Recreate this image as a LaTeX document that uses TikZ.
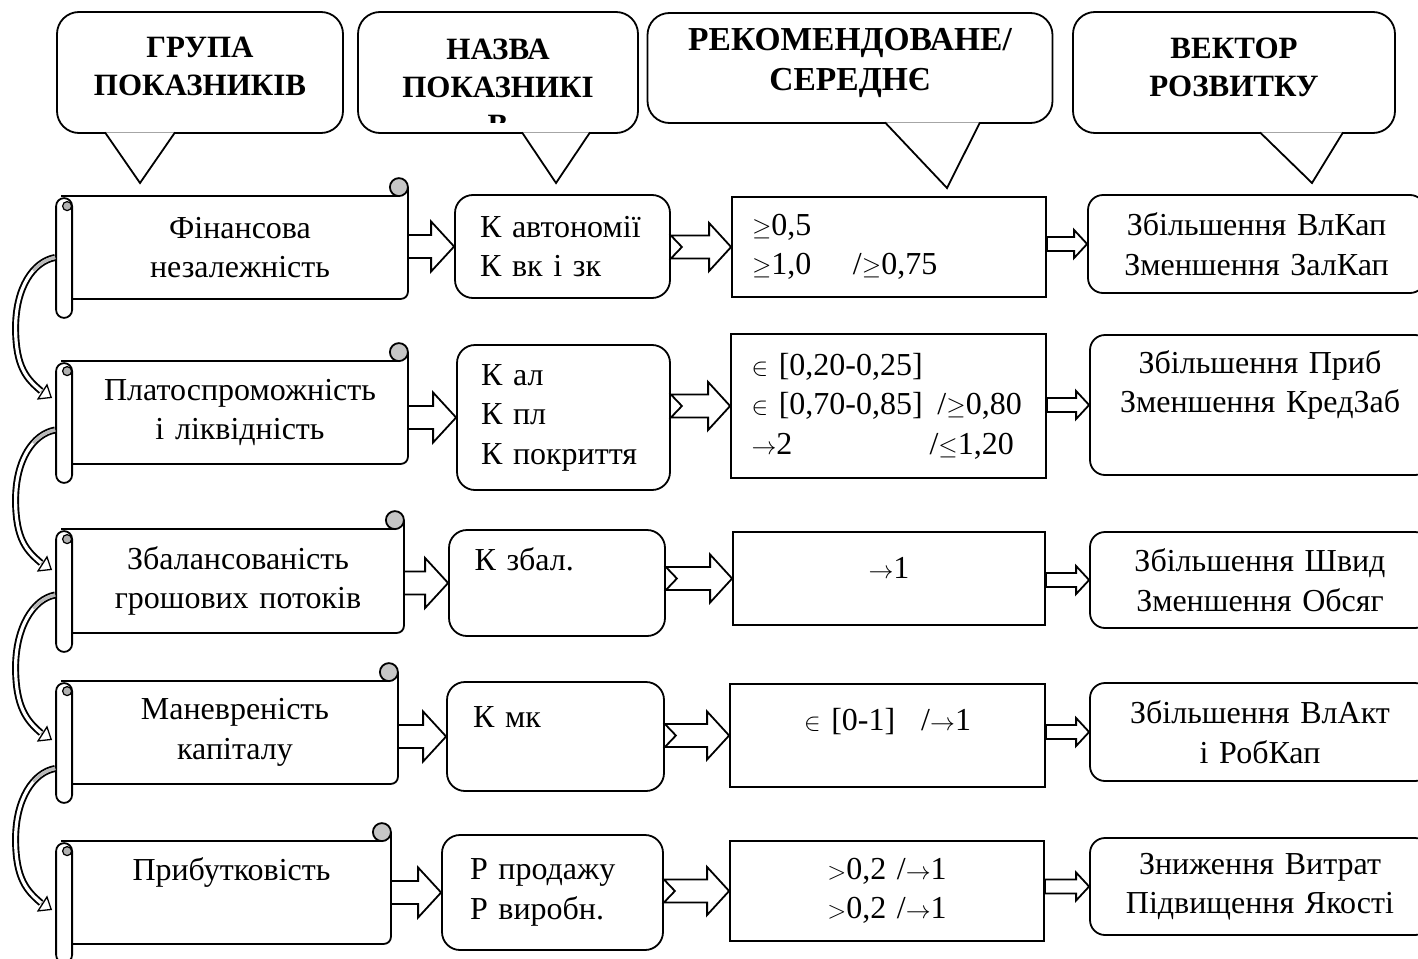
\documentclass[tikz,border=0pt]{standalone}
\usepackage{fontspec}
\setmainfont{Liberation Serif}
\usetikzlibrary{calc,arrows.meta}

\newcommand{\scrollframe}[1]{%
  \draw[rounded corners=7pt] ($(#1.north east)+(0,-9)$) -- (#1.south east) -- (#1.south west);
  \draw ($(#1.north west)+(-11,0)$) -- ($(#1.north east)+(-9,0)$);
  \draw[fill=gray!45] ($(#1.north east)+(-9,-9)$) circle (9pt);
  \draw[fill=white, rounded corners=8pt] ($(#1.north west)+(-16,2)$) rectangle ($(#1.south west)+(0,19)$);
  \draw[fill=gray!60, line width=1.2pt] ($(#1.north west)+(-5,10)$) circle (4.5pt);}
\newcommand{\barrow}[6]{%
  \draw[fill=white, line join=miter]
    ($(#1.east |- #2.west)+(0,-#3)$) -- ($(#2.west)+(-#5,-#3)$) -- ($(#2.west)+(-#5,-#4)$) -- (#2.west)
    -- ($(#2.west)+(-#5,#4)$) -- ($(#2.west)+(-#5,#3)$) -- ($(#1.east |- #2.west)+(0,#3)$)
    -- ($(#1.east |- #2.west)+(#6,0)$) -- cycle;}
\newcommand{\bendarrow}[4]{%
  \coordinate (bt) at ($(#1.west)+(-17,#3)$);
  \coordinate (bp) at ($(#2.west)+(-20,#4)$);
  \coordinate (bm) at ($(bt)!0.5!(bp)+(-38,0)$);
  \coordinate (bh) at ($(bp)+(-11,-7)$);
  \draw[line width=7pt] (bt) .. controls +(-22,4) and +(0,-40) .. (bm) .. controls +(0,40) and +(-14,-12) .. (bh);
  \draw[line width=3.2pt, white] (bt) .. controls +(-22,4) and +(0,-40) .. (bm) .. controls +(0,40) and +(-14,-12) .. (bh);
  \draw[line width=3.2pt, gray!55, dash pattern=on 26pt off 2000pt] (bt) .. controls +(-22,4) and +(0,-40) .. (bm);
  \draw[line width=.1pt, -{Triangle[fill=white, length=12pt, width=19pt, line width=1.3pt]}] (bh) -- (bp);}
\newcommand{\pointer}[4]{%
  \draw[fill=white, line join=miter] ($(#1.south)+(#2,-1.5)$) -- (#4) -- ($(#1.south)+(#3,-1.5)$);}

\begin{document}
\begin{tikzpicture}[x=1pt, y=-1pt, line width=1.8pt,
  every node/.style={font=\fontsize{32}{39.5}\selectfont},
  head/.style={draw, rounded corners=22pt, fill=white, align=center, inner sep=0pt,
    font=\bfseries\fontsize{31}{38}\selectfont},
  headtext/.style={align=center, inner sep=0pt, font=\bfseries\fontsize{31}{38}\selectfont},
  sbody/.style={minimum height=101pt, text width=310pt, align=center, inner sep=0pt},
  kbox/.style={draw, rounded corners=18pt, text width=165pt, align=left, inner sep=0pt},
  vbox/.style={draw, text width=274pt, inner sep=0pt},
  dbox/.style={draw, rounded corners=15pt, text width=310pt, align=center, inner sep=0pt}]
\useasboundingbox (0,0) rectangle (1418,958);

\node[head, text depth=12pt, minimum width=286pt, minimum height=121pt] (h1) at (200,72.5) {ГРУПА\\ПОКАЗНИКІВ};
\coordinate (p1) at (140,183);
\pointer{h1}{-95}{-25}{p1}
\node[head, minimum width=280pt, minimum height=121pt] (h2) at (498,72.5) {};
\begin{scope}
  \clip (360,14) rectangle (636,122);
  \node[headtext] (h2t) at (498,87) {НАЗВА\\ПОКАЗНИКІ\\В};
\end{scope}
\coordinate (p2) at (556,183);
\pointer{h2}{24}{92}{p2}
\node[head, text depth=18pt, font=\bfseries\fontsize{33.5}{40}\selectfont,
  minimum width=405pt, minimum height=110pt] (h3) at (850,68) {РЕКОМЕНДОВАНЕ/\\СЕРЕДНЄ};
\coordinate (p3) at (947,188);
\pointer{h3}{35}{130}{p3}
\node[head, text depth=10pt, minimum width=322pt, minimum height=121pt] (h4) at (1234,72.5) {ВЕКТОР\\РОЗВИТКУ};
\coordinate (p4) at (1312,183);
\pointer{h4}{26}{109}{p4}

\node[sbody, minimum width=334pt] (s1) at (240,247.5) {Фінансова\\незалежність};
\node[sbody, minimum width=334pt] (s2) at (240,412.5) {Платоспроможність\\і ліквідність};
\node[sbody, minimum width=330pt, minimum height=102pt] (s3) at (238,581) {Збалансованість\\грошових потоків};
\node[sbody, minimum width=324pt] (s4) at (235,732.5) {Маневреність\\капіталу};
\node[sbody, text depth=46pt, minimum width=317pt] (s5) at (231.5,892.5) {Прибутковість};
\foreach \s in {s1,s2,s3,s4,s5} {\scrollframe{\s}}

\node[kbox, minimum width=215pt, minimum height=103pt] (k1) at (562.5,246.5) {К автономії\\К вк і зк};
\node[kbox, minimum width=213pt, minimum height=145pt] (k2) at (563.5,417.5) {К ал\\К пл\\К покриття};
\node[kbox, text depth=47pt, minimum width=216pt, minimum height=106pt] (k3) at (557,583) {К збал.};
\node[kbox, text depth=38pt, minimum width=217pt, minimum height=109pt] (k4) at (555.5,736.5) {К мк};
\node[kbox, minimum width=221pt, minimum height=115pt] (k5) at (552.5,892.5) {Р продажу\\Р виробн.};

\node[vbox, align=left, minimum width=314pt, minimum height=100pt] (v1) at (889,247)
  {$\geq$0,5\\\makebox[101pt][l]{$\geq$1,0}/$\geq$0,75};
\node[vbox, align=left, minimum width=315pt, minimum height=144pt] (v2) at (888.5,406)
  {$\in$ [0,20-0,25]\\\makebox[186pt][l]{$\in$ [0,70-0,85]}/$\geq$0,80\\\makebox[178pt][l]{$\to$2}/$\leq$1,20};
\node[vbox, align=center, text depth=22pt, minimum width=312pt, minimum height=93pt] (v3) at (889,578.5) {$\to$1};
\node[vbox, align=center, text depth=32pt, minimum width=315pt, minimum height=103pt] (v4) at (887.5,735.5) {$\in$ [0-1]\hspace{26pt}/$\to$1};
\node[vbox, align=center, minimum width=314pt, minimum height=100pt] (v5) at (887,891) {$>$0,2 /$\to$1\\$>$0,2 /$\to$1};

\node[dbox, minimum width=337pt, minimum height=98pt] (d1) at (1256.5,244) {Збільшення ВлКап\\Зменшення ЗалКап};
\node[dbox, text depth=86pt, minimum width=340pt, minimum height=140pt] (d2) at (1260,405) {Збільшення Приб\\Зменшення КредЗаб};
\node[dbox, minimum width=340pt, minimum height=96pt] (d3) at (1260,580) {Збільшення Швид\\Зменшення Обсяг};
\node[dbox, minimum width=340pt, minimum height=98pt] (d4) at (1260,732) {Збільшення ВлАкт\\і РобКап};
\node[dbox, minimum width=340pt, minimum height=97pt] (d5) at (1260,886.5) {Зниження Витрат\\Підвищення Якості};

\foreach \i in {1,...,5} {
  \barrow{s\i}{k\i}{11.5}{25}{23}{0}
  \barrow{k\i}{v\i}{11.5}{24}{22}{11}
  \barrow{v\i}{d\i}{7}{14}{13}{0}
}

\bendarrow{s1}{s2}{10}{-14.5}
\bendarrow{s2}{s3}{17.5}{-11}
\bendarrow{s3}{s4}{14}{7.5}
\bendarrow{s4}{s5}{36}{17.5}
\end{tikzpicture}
\end{document}
